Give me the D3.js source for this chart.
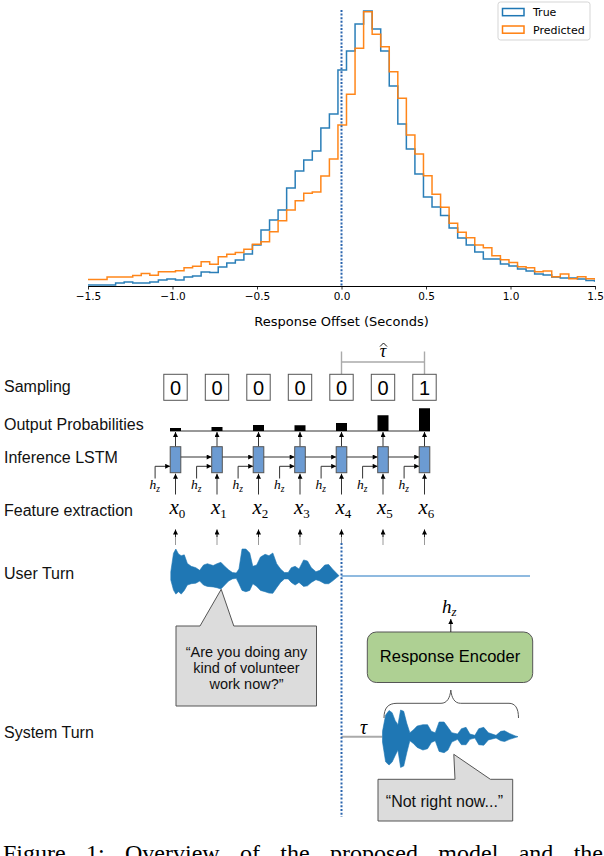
<!DOCTYPE html>
<html><head><meta charset="utf-8">
<script src="https://cdn.jsdelivr.net/npm/d3@7"></script>
<style>body{margin:0;background:#fff} svg{display:block}</style>
</head><body>
<svg id="fig" width="604" height="856"></svg>
<script>
// ---------------- DATA ----------------
const binStart = -1.539, binWidth = 0.0506;
const trueDensity = [0.01,0.01,0.01,0.01,0.03,0.04,0.03,0.03,0.04,0.06,
 0.07,0.06,0.09,0.10,0.14,0.135,0.19,0.23,0.26,0.32,
 0.41,0.56,0.66,0.76,0.98,1.15,1.26,1.35,1.58,1.72,
 2.16,2.35,2.62,2.75,2.57,2.35,2.00,1.62,1.37,1.12,
 0.89,0.79,0.705,0.58,0.48,0.41,0.34,0.27,0.27,0.22,
 0.20,0.17,0.15,0.12,0.11,0.09,0.08,0.08,0.07,0.055,0.05];
const predDensity = [0.065,0.065,0.065,0.09,0.09,0.09,0.105,0.125,0.107,0.142,
 0.142,0.152,0.183,0.198,0.242,0.218,0.292,0.317,0.335,0.367,
 0.418,0.443,0.543,0.652,0.76,0.853,0.927,0.941,1.10,1.27,
 1.61,1.917,2.377,2.743,2.517,2.393,2.143,1.877,1.51,1.32,
 1.103,0.917,0.787,0.627,0.537,0.483,0.41,0.383,0.303,0.263,
 0.235,0.193,0.183,0.143,0.15,0.093,0.12,0.073,0.093,0.073,0.07];
const xTicks = [-1.5,-1.0,-0.5,0.0,0.5,1.0,1.5];
const xLabel = "Response Offset (Seconds)";
const seriesNames = ["True","Predicted"];
const seriesColors = ["#1f77b4","#ff7f0e"];

const rowLabels = ["Sampling","Output Probabilities","Inference LSTM","Feature extraction","User Turn","System Turn"];
const frames = [0,1,2,3,4,5,6];
const samples = [0,0,0,0,0,0,1];
const outputProbs = [0.12,0.16,0.24,0.23,0.32,0.63,0.91];
// waveform envelopes: time in frames relative to end of user turn, amplitude up / down
const userWaveT  = [-4.113,-4.048,-3.992,-3.927,-3.862,-3.788,-3.714,-3.621,-3.510,-3.417,-3.324,-3.232,-3.092,-3.000,-2.907,-2.814,-2.721,-2.629,-2.536,-2.471,-2.397,-2.304,-2.211,-2.137,-2.044,-1.952,-1.840,-1.748,-1.655,-1.562,-1.469,-1.376,-1.284,-1.210,-1.117,-1.024,-0.913,-0.820,-0.727,-0.616,-0.523,-0.403,-0.310,-0.217,-0.124,-0.060];
const userWaveUp = [0.15,0.84,1.00,0.81,0.75,0.78,0.46,0.35,0.30,0.20,0.40,0.45,0.38,0.45,0.50,0.35,0.22,0.12,0.10,0.25,1.00,1.00,0.85,0.35,0.40,0.70,0.80,0.75,0.85,0.45,0.25,0.12,0.12,0.30,0.35,0.25,0.59,0.55,0.30,0.15,0.20,0.40,0.42,0.25,0.10,0.00];
const userWaveLo = [0.16,0.54,0.69,0.60,0.69,0.55,0.35,0.30,0.28,0.20,0.35,0.40,0.42,0.45,0.50,0.35,0.20,0.12,0.10,0.30,0.55,0.60,0.55,0.30,0.40,0.55,0.60,0.65,0.66,0.45,0.25,0.12,0.12,0.25,0.35,0.25,0.40,0.38,0.25,0.15,0.20,0.30,0.30,0.20,0.08,0.00];
const sysWaveT  = [0.988,1.063,1.146,1.220,1.295,1.360,1.424,1.499,1.573,1.647,1.730,1.823,1.962,2.074,2.166,2.259,2.352,2.472,2.565,2.658,2.797,2.890,3.001,3.094,3.214,3.308,3.428,3.539,3.724,3.836,3.929,4.049,4.188,4.253];
const sysWaveUp = [0.20,0.81,0.98,0.90,0.60,0.45,1.00,0.95,0.50,0.15,0.25,0.40,0.45,0.45,0.20,0.15,0.55,0.55,0.35,0.15,0.10,0.30,0.35,0.10,0.05,0.30,0.35,0.15,0.05,0.20,0.22,0.12,0.03,0.00];
const sysWaveLo = [0.20,0.94,1.06,0.95,0.70,0.50,1.15,1.10,0.60,0.15,0.25,0.40,0.50,0.45,0.22,0.15,0.55,0.60,0.50,0.20,0.10,0.30,0.30,0.10,0.05,0.30,0.32,0.12,0.05,0.15,0.18,0.10,0.03,0.00];
const userQuote = ["\u201CAre you doing any","kind of volunteer","work now?\u201D"];
const sysQuote = "\u201CNot right now...\u201D";
const encoderLabel = "Response Encoder";
const caption = "Figure 1: Overview of the proposed model and the";

// ---------------- DRAW ----------------
const SANS = "'Liberation Sans', Arial, sans-serif";
const DEJ = "'DejaVu Sans', sans-serif";
const SERIF = "'Liberation Serif', 'Times New Roman', serif";
const svg = d3.select("#fig");
const defs = svg.append("defs");
defs.append("marker").attr("id","arr").attr("viewBox","0 0 10 10").attr("refX",10).attr("refY",5)
  .attr("markerWidth",6).attr("markerHeight",5).attr("markerUnits","userSpaceOnUse").attr("orient","auto")
  .append("path").attr("d","M0,0L10,5L0,10Z").attr("fill","#000");

// histogram
const x = d3.scaleLinear().domain([-1.5,1.5]).range([88,595]);
const y = d3.scaleLinear().domain([0,2.89]).range([286,-3]);
defs.append("clipPath").attr("id","ax").append("rect").attr("x",88).attr("y",-3).attr("width",507).attr("height",289);
function stepPts(vals){
  const pts=[[binStart,0]];
  vals.forEach((v,i)=>{const a=binStart+i*binWidth; pts.push([a,v],[a+binWidth,v]);});
  pts.push([binStart+vals.length*binWidth,0]);
  return pts;
}
const line = d3.line().x(d=>x(d[0])).y(d=>y(d[1]));
const hg = svg.append("g").attr("clip-path","url(#ax)");
[trueDensity,predDensity].forEach((vals,i)=>{
  hg.append("path").attr("d",line(stepPts(vals))).attr("fill","none")
    .attr("stroke",seriesColors[i]).attr("stroke-width",1.5).attr("stroke-opacity",0.95);
});
svg.append("line").attr("x1",x(0)).attr("x2",x(0)).attr("y1",y(2.76)).attr("y2",y(0))
  .attr("stroke","#2a64ad").attr("stroke-width",2).attr("stroke-dasharray","2,1.6");

const axis = d3.axisBottom(x).tickValues(xTicks).tickFormat(d3.format(".1f")).tickSize(3.5).tickSizeOuter(0);
const ag = svg.append("g").attr("transform","translate(0,286)").call(axis);
ag.select(".domain").attr("stroke","#000").attr("stroke-width",1);
ag.selectAll(".tick line").attr("stroke","#000").attr("stroke-width",0.8);
ag.selectAll(".tick text").attr("font-family",DEJ).attr("font-size",10.5).attr("fill","#000").attr("dy","0.95em").attr("y",4);
svg.append("text").attr("x",x(0)).attr("y",326).attr("text-anchor","middle")
  .attr("font-family",DEJ).attr("font-size",13).text(xLabel);

// legend
const lg = svg.append("g");
lg.append("rect").attr("x",498).attr("y",2).attr("width",92).attr("height",38).attr("rx",2.5)
  .attr("fill","#fff").attr("fill-opacity",0.8).attr("stroke","#d0d0d0").attr("stroke-width",0.9);
seriesNames.forEach((n,i)=>{
  lg.append("rect").attr("x",502.5).attr("y",8.5+i*17.5).attr("width",21.5).attr("height",7.2)
    .attr("fill","none").attr("stroke",seriesColors[i]).attr("stroke-width",1.5);
  lg.append("text").attr("x",533).attr("y",16+i*17.5).attr("font-family",DEJ).attr("font-size",11).text(n);
});

// ---------- diagram ----------
const fx = d3.scaleLinear().domain([0,6]).range([175.5,424.5]);
const frameX = t => fx(4 + t); // time relative to end of user turn
const labelY = [391.5,430,463,516,578.5,737.5];
rowLabels.forEach((t,i)=>{
  svg.append("text").attr("x",4).attr("y",labelY[i]).attr("font-family",SANS).attr("font-size",16).attr("fill","#111").text(t);
});

// tau-hat bracket
const bk = svg.append("g").attr("stroke","#aaa").attr("stroke-width",1.4).attr("fill","none");
bk.append("path").attr("d",`M${fx(4)},374 V351.5 M${fx(4)},362 H${fx(6)} M${fx(6)},351.5 V374`);
svg.append("text").attr("x",fx(5)).attr("y",357).attr("text-anchor","middle").attr("font-family",SERIF)
  .attr("font-style","italic").attr("font-size",18).text("\u03C4");
svg.append("path").attr("d",`M${fx(5)-3},346.5 L${fx(5)+0.5},343 L${fx(5)+4},346.5`).attr("fill","none").attr("stroke","#000").attr("stroke-width",0.9);

// sampling boxes
const sg = svg.append("g");
frames.forEach((f,i)=>{
  sg.append("rect").attr("x",fx(f)-11.7).attr("y",374.3).attr("width",23.4).attr("height",26)
    .attr("fill","#fff").attr("stroke","#555").attr("stroke-width",1);
  sg.append("text").attr("x",fx(f)).attr("y",394.5).attr("text-anchor","middle").attr("font-family",SANS)
    .attr("font-size",20).text(samples[i]);
});

// output probabilities
const pH = d3.scaleLinear().domain([0,1]).range([0,25]);
svg.append("line").attr("x1",fx(0)-5.5).attr("x2",fx(6)+5.5).attr("y1",431).attr("y2",431).attr("stroke","#333").attr("stroke-width",1);
frames.forEach((f,i)=>{
  svg.append("rect").attr("x",fx(f)-5.5).attr("y",431-pH(outputProbs[i])).attr("width",11).attr("height",pH(outputProbs[i])).attr("fill","#000");
});

// LSTM cells
const cellTop=446.7, cellH=26, cellW=10.6;
frames.forEach((f,i)=>{
  const cx = fx(f);
  svg.append("line").attr("x1",cx).attr("x2",cx).attr("y1",cellTop).attr("y2",432).attr("stroke","#333").attr("stroke-width",1).attr("marker-end","url(#arr)");
  svg.append("path").attr("d",`M${cx-20.4},478.5 V466.3 H${cx-cellW/2}`).attr("fill","none").attr("stroke","#333").attr("stroke-width",1).attr("marker-end","url(#arr)");
  const hz = svg.append("text").attr("x",cx-26).attr("y",489.3).attr("font-family",SERIF).attr("font-style","italic").attr("font-size",13.5);
  hz.append("tspan").text("h");
  hz.append("tspan").attr("font-size",9.5).attr("dy",2.5).text("z");
  if(i>0) svg.append("line").attr("x1",fx(f-1)+cellW/2).attr("x2",cx-cellW/2).attr("y1",457).attr("y2",457).attr("stroke","#333").attr("stroke-width",1).attr("marker-end","url(#arr)");
  svg.append("line").attr("x1",cx).attr("x2",cx).attr("y1",494.5).attr("y2",cellTop+cellH+1).attr("stroke","#333").attr("stroke-width",1).attr("marker-end","url(#arr)");
  svg.append("rect").attr("x",cx-cellW/2).attr("y",cellTop).attr("width",cellW).attr("height",cellH)
    .attr("fill","#6c9bd2").attr("stroke","#555").attr("stroke-width",1);
  const xl = svg.append("text").attr("x",cx-6).attr("y",514.3).attr("font-family",SERIF).attr("font-style","italic").attr("font-size",21);
  xl.append("tspan").text("x");
  xl.append("tspan").attr("font-style","normal").attr("font-size",13).attr("dy",4).text(f);
  svg.append("line").attr("x1",cx).attr("x2",cx).attr("y1",545).attr("y2",535).attr("stroke","#999").attr("stroke-width",1);
  svg.append("line").attr("x1",cx).attr("x2",cx).attr("y1",537).attr("y2",529.5).attr("stroke","#222").attr("stroke-width",1).attr("marker-end","url(#arr)");
});

// waveforms
const amp = d3.scaleLinear().domain([0,1]).range([0,26.7]);
function wave(T,U,L,cy){
  const d = T.map((t,i)=>({t,u:U[i],l:L[i]}));
  return d3.area().x(p=>frameX(p.t)).y0(p=>cy+amp(p.l)).y1(p=>cy-amp(p.u)).curve(d3.curveLinear)(d);
}
svg.append("line").attr("x1",frameX(0)).attr("x2",530).attr("y1",576).attr("y2",576).attr("stroke","#6aa3d6").attr("stroke-width",1.3);
svg.append("path").attr("d",wave(userWaveT,userWaveUp,userWaveLo,575.7)).attr("fill","#1f77b4").attr("stroke","#1f77b4").attr("stroke-width",0.6);

svg.append("line").attr("x1",frameX(0)).attr("x2",frameX(sysWaveT[0])).attr("y1",736.7).attr("y2",736.7).attr("stroke","#aaa").attr("stroke-width",2);
svg.append("path").attr("d",wave(sysWaveT,sysWaveUp,sysWaveLo,736.7)).attr("fill","#1f77b4").attr("stroke","#1f77b4").attr("stroke-width",0.6);
svg.append("text").attr("x",frameX(0.53)).attr("y",733.5).attr("text-anchor","middle").attr("font-family",SERIF)
  .attr("font-style","italic").attr("font-size",20).text("\u03C4");

svg.append("line").attr("x1",x(0)).attr("x2",x(0)).attr("y1",543).attr("y2",817)
  .attr("stroke","#2a64ad").attr("stroke-width",2).attr("stroke-dasharray","2,1.8");

// user speech bubble
svg.append("path").attr("d","M176,626 H200 L221.2,589.3 L233.8,626 H316.5 V706 H176 Z")
  .attr("fill","#dcdcdc").attr("stroke","#555").attr("stroke-width",1);
userQuote.forEach((t,i)=>{
  svg.append("text").attr("x",246.5).attr("y",656.5+i*16.4).attr("text-anchor","middle").attr("font-family",SANS).attr("font-size",14.5).attr("fill","#111").text(t);
});

// response encoder
svg.append("rect").attr("x",367.3).attr("y",632).attr("width",165.4).attr("height",50.5).attr("rx",9)
  .attr("fill","#aed093").attr("stroke","#555").attr("stroke-width",1);
svg.append("text").attr("x",450).attr("y",661.5).attr("text-anchor","middle").attr("font-family",SANS).attr("font-size",16.5).text(encoderLabel);
svg.append("line").attr("x1",450.8).attr("x2",450.8).attr("y1",632).attr("y2",619).attr("stroke","#222").attr("stroke-width",1).attr("marker-end","url(#arr)");
const hz2 = svg.append("text").attr("x",442).attr("y",612.5).attr("font-family",SERIF).attr("font-style","italic").attr("font-size",19);
hz2.append("tspan").text("h");
hz2.append("tspan").attr("font-size",13).attr("dy",3).text("z");

// brace
svg.append("path").attr("d","M384,718 C384,708 388,703.3 397,703.3 H441 C447,703.3 450,698 450.8,690 C451.6,698 454.6,703.3 460.6,703.3 H509 C515,703.3 518.5,708 518.5,718")
  .attr("fill","none").attr("stroke","#555").attr("stroke-width",1);

// system speech bubble
svg.append("path").attr("d","M378,779.3 H455 L453.8,754.3 L490.4,779.3 H512.7 V821 H378 Z")
  .attr("fill","#dcdcdc").attr("stroke","#555").attr("stroke-width",1);
svg.append("text").attr("x",444.5).attr("y",806.7).attr("text-anchor","middle").attr("font-family",SANS).attr("font-size",16).attr("fill","#111").text(sysQuote);

// caption (cut by page edge), justified by word spacing
const cap = svg.append("text").attr("x",3).attr("y",861).attr("font-family",SERIF).attr("font-size",24).text(caption);
const capLen = cap.node().getComputedTextLength();
const nSpaces = caption.split(" ").length - 1;
cap.attr("word-spacing", Math.max(0,(600 - capLen)/nSpaces));
</script>
</body></html>
